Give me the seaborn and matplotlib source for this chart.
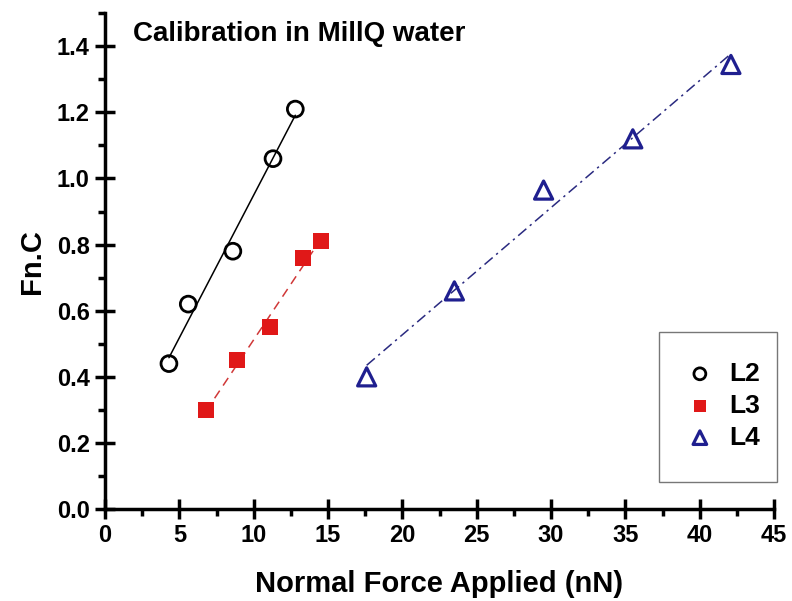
import numpy as np
import pandas as pd
import matplotlib
matplotlib.use('Agg')
import matplotlib.pyplot as plt
from matplotlib.patches import Rectangle
from matplotlib.ticker import MultipleLocator
import seaborn as sns

# data
l2_force = [4.3, 5.6, 8.6, 11.3, 12.8]
l2_fnc = [0.44, 0.62, 0.78, 1.06, 1.21]

l3_force = [6.8, 8.9, 11.1, 13.3, 14.5]
l3_fnc = [0.30, 0.45, 0.55, 0.76, 0.81]

l4_force = [17.6, 23.5, 29.5, 35.5, 42.1]
l4_fnc = [0.40, 0.66, 0.965, 1.12, 1.345]

sns.set_theme(style='white')
plt.rcParams['font.family'] = ['Liberation Sans', 'DejaVu Sans']
plt.rcParams['text.color'] = 'black'
plt.rcParams['axes.labelcolor'] = 'black'
plt.rcParams['xtick.color'] = 'black'
plt.rcParams['ytick.color'] = 'black'

fig = plt.figure(figsize=(7.92, 6.01), dpi=100)
ax = fig.add_axes([0.1326, 0.153, 0.8447, 0.825])

navy = '#1f1f8f'
red = '#e01818'

# L2 - open circles, solid fit
sns.regplot(x=l2_force, y=l2_fnc, ax=ax, ci=None, marker='o', label='L2',
            scatter_kws={'facecolors': 'none', 'edgecolors': 'black', 's': 130,
                         'linewidths': 2, 'alpha': 1, 'zorder': 3},
            line_kws={'color': 'black', 'lw': 1.1, 'ls': '-'})
# L3 - red squares, dashed fit
sns.regplot(x=l3_force, y=l3_fnc, ax=ax, ci=None, marker='s', label='L3',
            scatter_kws={'color': red, 's': 120, 'linewidths': 0, 'alpha': 1, 'zorder': 3},
            line_kws={'color': '#d03838', 'lw': 1.1, 'ls': (0, (6, 4))})
# L4 - open triangles, dash-dot fit
sns.regplot(x=l4_force, y=l4_fnc, ax=ax, ci=None, marker='^', label='L4',
            scatter_kws={'facecolors': 'none', 'edgecolors': navy, 's': 170,
                         'linewidths': 2.3, 'alpha': 1, 'zorder': 3},
            line_kws={'color': '#2a2a80', 'lw': 1.1, 'ls': (0, (7, 3, 1.5, 3))})

ax.set_xlim(0, 45)
ax.set_ylim(0, 1.5)
ax.xaxis.set_major_locator(MultipleLocator(5))
ax.xaxis.set_minor_locator(MultipleLocator(2.5))
ax.yaxis.set_minor_locator(MultipleLocator(0.1))
ax.set_yticks(np.arange(0, 1.41, 0.2))
ax.set_yticklabels([f'{v:.1f}' for v in np.arange(0, 1.41, 0.2)])

for side in ['top', 'right']:
    ax.spines[side].set_visible(False)
for side in ['left', 'bottom']:
    ax.spines[side].set_linewidth(2.5)
    ax.spines[side].set_color('black')

ax.tick_params(which='both', bottom=True, left=True)
ax.tick_params(which='major', direction='inout', length=14, width=2.5,
               color='black', labelsize=17, pad=4)
ax.tick_params(which='minor', direction='out', length=5, width=2.5, color='black')
for lab in ax.get_xticklabels() + ax.get_yticklabels():
    lab.set_fontweight('bold')

ax.set_xlabel('Normal Force Applied (nN)', fontsize=21, fontweight='bold',
              labelpad=16)
ax.set_ylabel('Fn.C', fontsize=21, fontweight='bold', labelpad=8)

ax.text(0.042, 0.958, 'Calibration in MillQ water', transform=ax.transAxes,
        fontsize=20, fontweight='bold', va='center', ha='left')

# legend box
ax.add_patch(Rectangle((0.828, 0.054), 0.176, 0.303, transform=ax.transAxes,
                       fill=False, edgecolor='#777777', lw=1, clip_on=False))
leg = ax.legend(loc='upper left', bbox_to_anchor=(0.83, 0.345), frameon=False,
                prop={'weight': 'bold', 'size': 19}, handletextpad=0.5,
                labelspacing=0.3, markerscale=0.75, handlelength=1.2)

fig.savefig('out.png', dpi=100)
